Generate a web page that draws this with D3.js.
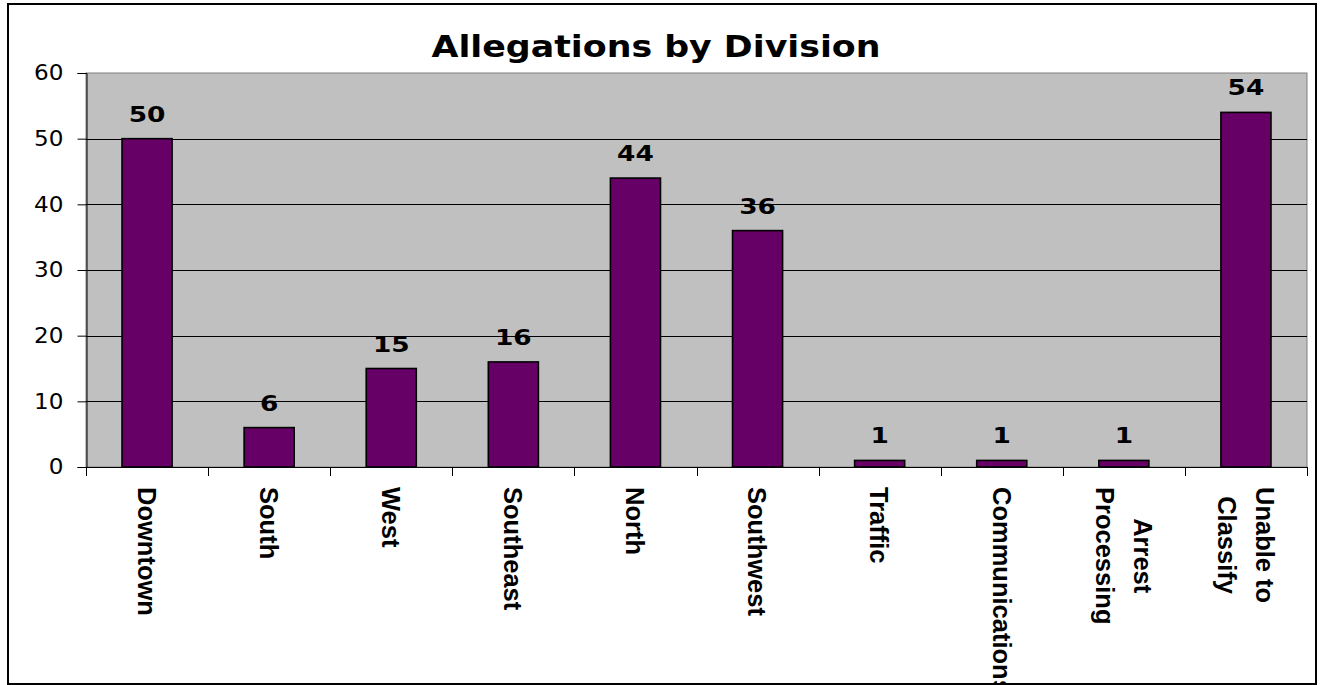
<!DOCTYPE html>
<html>
<head>
<meta charset="utf-8">
<script src="https://cdn.jsdelivr.net/npm/d3@7"></script>
<style>
  html, body { margin: 0; padding: 0; background: #fff; }
  svg { display: block; }
</style>
</head>
<body>
<svg id="chart" width="1328" height="685"></svg>
<script>
// Allegations counted per division
const divisions = [
  ["Downtown"],
  ["South"],
  ["West"],
  ["Southeast"],
  ["North"],
  ["Southwest"],
  ["Traffic"],
  ["Communications"],
  ["Arrest", "Processing"],
  ["Unable to", "Classify"]
];
const allegations = [50, 6, 15, 16, 44, 36, 1, 1, 1, 54];
const yTicks = [0, 10, 20, 30, 40, 50, 60];
const chartTitle = "Allegations by Division";

const svg = d3.select("#chart");
const W = 1328, H = 685;
const wideFont = "'DejaVu Sans', Verdana, sans-serif";

// outer frame
svg.append("rect")
  .attr("x", 8).attr("y", 4)
  .attr("width", 1308).attr("height", 680)
  .attr("fill", "#fff").attr("stroke", "#000").attr("stroke-width", 2);

const plot = { left: 86, top: 73, right: 1307, bottom: 467 };

const keys = divisions.map((d, i) => i);
const x = d3.scaleBand()
  .domain(keys)
  .range([plot.left, plot.right])
  .paddingInner(0.59)
  .paddingOuter(0.295);

const y = d3.scaleLinear()
  .domain([0, 60])
  .range([plot.bottom, plot.top]);

// plot area background
svg.append("rect")
  .attr("x", plot.left).attr("y", plot.top)
  .attr("width", plot.right - plot.left).attr("height", plot.bottom - plot.top)
  .attr("fill", "#c0c0c0").attr("stroke", "#808080").attr("stroke-width", 1);

// horizontal gridlines
svg.append("g")
  .selectAll("line")
  .data(yTicks.filter(t => t > 0 && t < 60))
  .join("line")
  .attr("x1", plot.left).attr("x2", plot.right)
  .attr("y1", d => Math.round(y(d)) + 0.5).attr("y2", d => Math.round(y(d)) + 0.5)
  .attr("stroke", "#000").attr("stroke-width", 1);

// bars
svg.append("g")
  .selectAll("rect")
  .data(allegations)
  .join("rect")
  .attr("x", (d, i) => x(i))
  .attr("y", d => y(d))
  .attr("width", x.bandwidth())
  .attr("height", d => y(0) - y(d))
  .attr("fill", "#660066")
  .attr("stroke", "#000")
  .attr("stroke-width", 1.6);

// value labels (slightly widened glyphs)
svg.append("g")
  .selectAll("text")
  .data(allegations)
  .join("text")
  .attr("transform", (d, i) => `translate(${x(i) + x.bandwidth() / 2},${y(d) - 17}) scale(1.2,1)`)
  .attr("text-anchor", "middle")
  .attr("font-family", wideFont)
  .attr("font-weight", "bold")
  .attr("font-size", 22)
  .attr("fill", "#000")
  .text(d => d);

// y axis
const yAxis = d3.axisLeft(y)
  .tickValues(yTicks)
  .tickSize(9)
  .tickPadding(13)
  .tickFormat(d3.format("d"));
const gy = svg.append("g")
  .attr("transform", `translate(${plot.left + 0.5},0)`)
  .call(yAxis);
gy.select(".domain").attr("stroke", "#000");
gy.selectAll(".tick line").attr("stroke", "#000");
gy.selectAll(".tick text")
  .attr("x", 0)
  .attr("transform", "translate(-23,0) scale(1.1,1)")
  .attr("font-family", wideFont)
  .attr("font-size", 21)
  .attr("fill", "#000");

// x axis: baseline and ticks at band boundaries
const xEdge = d3.scaleLinear().domain([0, divisions.length]).range([plot.left, plot.right]);
const gx = svg.append("g");
gx.append("line")
  .attr("x1", plot.left).attr("x2", plot.right)
  .attr("y1", plot.bottom + 0.5).attr("y2", plot.bottom + 0.5)
  .attr("stroke", "#000");
gx.selectAll("line.tick")
  .data(d3.range(divisions.length + 1))
  .join("line")
  .attr("class", "tick")
  .attr("x1", d => Math.round(xEdge(d)) + 0.5).attr("x2", d => Math.round(xEdge(d)) + 0.5)
  .attr("y1", plot.bottom).attr("y2", plot.bottom + 9)
  .attr("stroke", "#000");

// category labels, rotated to read top to bottom
const labelFont = 25.5;
const lineH = 38;
const labels = svg.append("g")
  .selectAll("g")
  .data(divisions)
  .join("g")
  .attr("transform", (d, i) => `translate(${x(i) + x.bandwidth() / 2},487) rotate(90)`);

labels.each(function(lines) {
  const g = d3.select(this);
  const t = g.append("text")
    .attr("font-family", "'Liberation Sans', Arial, sans-serif")
    .attr("font-weight", "bold")
    .attr("font-size", labelFont)
    .attr("fill", "#000");
  const n = lines.length;
  lines.forEach((ln, k) => {
    t.append("tspan")
      .attr("x", 0)
      .attr("y", (k - (n - 1) / 2) * lineH + labelFont * 0.36)
      .text(ln);
  });
  // centre each line on the longest one, block starting at the top
  const tspans = t.selectAll("tspan").nodes();
  const widths = tspans.map(s => s.getComputedTextLength());
  const maxW = d3.max(widths);
  tspans.forEach((s, k) => d3.select(s).attr("x", (maxW - widths[k]) / 2));
});

// title
svg.append("text")
  .attr("transform", "translate(656,57) scale(1.16,1)")
  .attr("text-anchor", "middle")
  .attr("font-family", wideFont)
  .attr("font-weight", "bold")
  .attr("font-size", 30)
  .attr("fill", "#000")
  .text(chartTitle);
</script>
</body>
</html>
